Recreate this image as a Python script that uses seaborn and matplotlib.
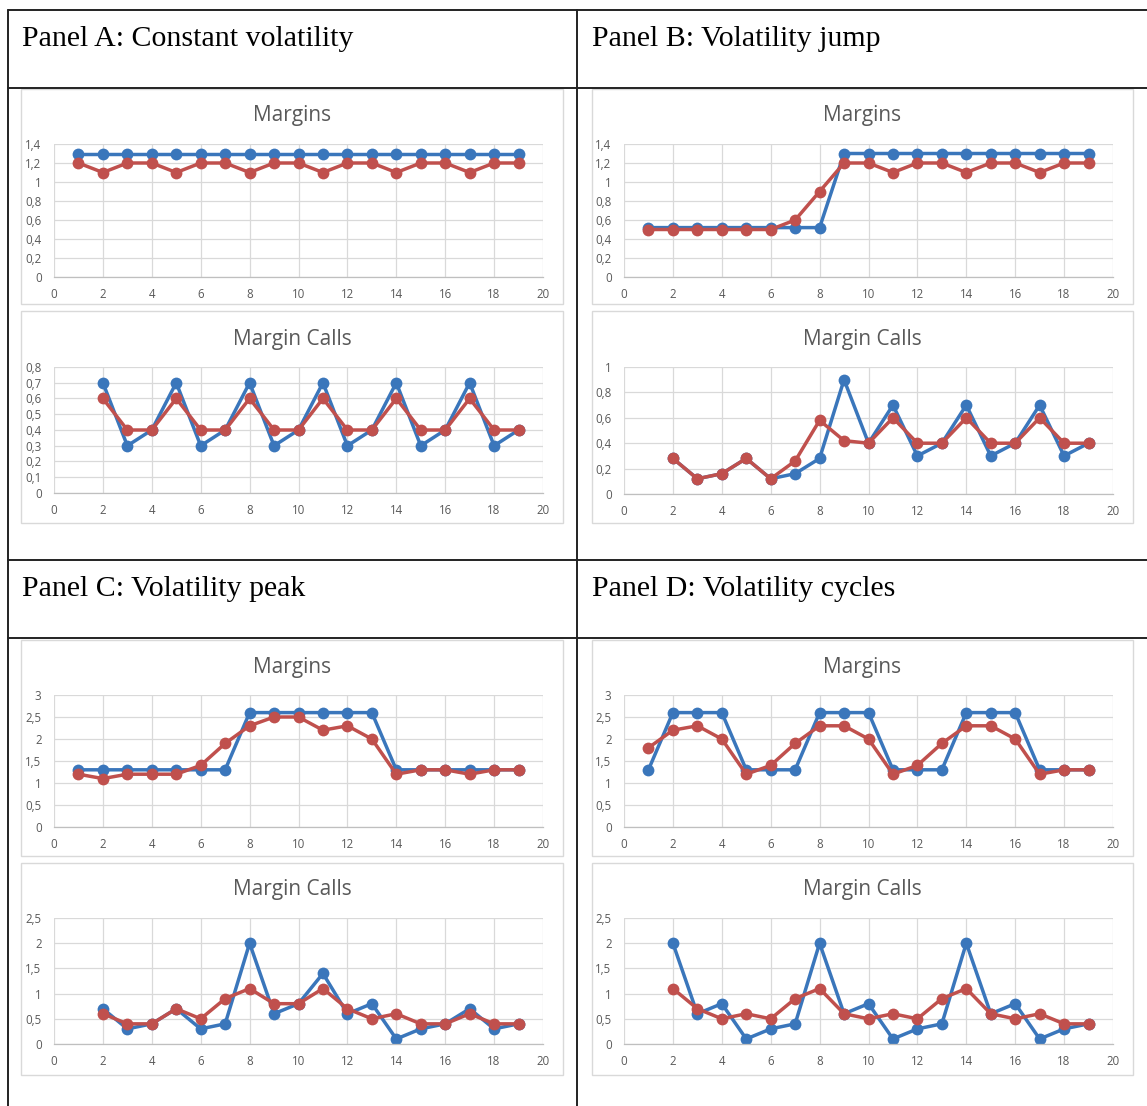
import numpy as np
import pandas as pd
import matplotlib
matplotlib.use("Agg")
import matplotlib.pyplot as plt
import seaborn as sns
from matplotlib.lines import Line2D
from matplotlib.patches import Rectangle
from matplotlib.ticker import FuncFormatter, MultipleLocator

# periods
x_margins = list(range(1, 20))
x_calls = list(range(2, 20))

# Panel A: constant volatility
a_margin_blue = [1.3] * 19
a_margin_red = [1.2, 1.1, 1.2, 1.2, 1.1, 1.2, 1.2, 1.1, 1.2, 1.2, 1.1, 1.2, 1.2, 1.1, 1.2, 1.2, 1.1, 1.2, 1.2]
a_calls_blue = [0.7, 0.3, 0.4, 0.7, 0.3, 0.4, 0.7, 0.3, 0.4, 0.7, 0.3, 0.4, 0.7, 0.3, 0.4, 0.7, 0.3, 0.4]
a_calls_red = [0.6, 0.4, 0.4, 0.6, 0.4, 0.4, 0.6, 0.4, 0.4, 0.6, 0.4, 0.4, 0.6, 0.4, 0.4, 0.6, 0.4, 0.4]

# Panel B: volatility jump
b_margin_blue = [0.52] * 8 + [1.3] * 11
b_margin_red = [0.5, 0.5, 0.5, 0.5, 0.5, 0.5, 0.6, 0.9, 1.2, 1.2, 1.1, 1.2, 1.2, 1.1, 1.2, 1.2, 1.1, 1.2, 1.2]
b_calls_blue = [0.28, 0.12, 0.16, 0.28, 0.12, 0.16, 0.28, 0.9, 0.4, 0.7, 0.3, 0.4, 0.7, 0.3, 0.4, 0.7, 0.3, 0.4]
b_calls_red = [0.28, 0.12, 0.16, 0.28, 0.12, 0.26, 0.58, 0.42, 0.4, 0.6, 0.4, 0.4, 0.6, 0.4, 0.4, 0.6, 0.4, 0.4]

# Panel C: volatility peak
c_margin_blue = [1.3] * 7 + [2.6] * 6 + [1.3] * 6
c_margin_red = [1.2, 1.1, 1.2, 1.2, 1.2, 1.4, 1.9, 2.3, 2.5, 2.5, 2.2, 2.3, 2.0, 1.2, 1.3, 1.3, 1.2, 1.3, 1.3]
c_calls_blue = [0.7, 0.3, 0.4, 0.7, 0.3, 0.4, 2.0, 0.6, 0.8, 1.4, 0.6, 0.8, 0.1, 0.3, 0.4, 0.7, 0.3, 0.4]
c_calls_red = [0.6, 0.4, 0.4, 0.7, 0.5, 0.9, 1.1, 0.8, 0.8, 1.1, 0.7, 0.5, 0.6, 0.4, 0.4, 0.6, 0.4, 0.4]

# Panel D: volatility cycles
d_margin_blue = [1.3, 2.6, 2.6, 2.6, 1.3, 1.3, 1.3, 2.6, 2.6, 2.6, 1.3, 1.3, 1.3, 2.6, 2.6, 2.6, 1.3, 1.3, 1.3]
d_margin_red = [1.8, 2.2, 2.3, 2.0, 1.2, 1.4, 1.9, 2.3, 2.3, 2.0, 1.2, 1.4, 1.9, 2.3, 2.3, 2.0, 1.2, 1.3, 1.3]
d_calls_blue = [2.0, 0.6, 0.8, 0.1, 0.3, 0.4, 2.0, 0.6, 0.8, 0.1, 0.3, 0.4, 2.0, 0.6, 0.8, 0.1, 0.3, 0.4]
d_calls_red = [1.1, 0.7, 0.5, 0.6, 0.5, 0.9, 1.1, 0.6, 0.5, 0.6, 0.5, 0.9, 1.1, 0.6, 0.5, 0.6, 0.4, 0.4]

panel_titles = ["Panel A: Constant volatility", "Panel B: Volatility jump",
                "Panel C: Volatility peak", "Panel D: Volatility cycles"]
chart_titles = ["Margins", "Margin Calls"]

BLUE = "#3A76BB"
RED = "#C0504D"
GREY_TXT = "#595959"
GRID = "#d9d9d9"

W, H = 1147, 1106

sns.set_style("white")
plt.rcParams["font.family"] = ["Open Sans", "DejaVu Sans"]

fig = plt.figure(figsize=(W / 100, H / 100), dpi=100)


def fx(px):
    return px / W


def fy(py):
    return 1 - py / H


def comma_fmt(v, pos):
    return f"{round(v, 2):g}".replace(".", ",")


def draw_chart(x0, ytop, ybot, xs, blue, red, ymax, ystep, title, title_y):
    ax = fig.add_axes([fx(x0), fy(ybot), fx(489), (ybot - ytop) / H])
    df = pd.DataFrame({
        "t": list(xs) + list(xs),
        "value": list(blue) + list(red),
        "series": ["blue"] * len(xs) + ["red"] * len(xs),
    })
    sns.lineplot(data=df, x="t", y="value", hue="series", hue_order=["blue", "red"],
                 palette={"blue": BLUE, "red": RED}, marker="o", markersize=8.5,
                 markeredgewidth=0, linewidth=2.5, legend=False, ax=ax, sort=False)
    ax.set_xlim(0, 20)
    ax.set_ylim(0, ymax)
    ax.xaxis.set_major_locator(MultipleLocator(2))
    ax.yaxis.set_major_locator(MultipleLocator(ystep))
    ax.yaxis.set_major_formatter(FuncFormatter(comma_fmt))
    ax.grid(True, color=GRID, linewidth=0.9)
    ax.set_axisbelow(True)
    for s in ["top", "right", "left"]:
        ax.spines[s].set_visible(False)
    ax.spines["bottom"].set_color("#bfbfbf")
    ax.spines["bottom"].set_linewidth(0.9)
    ax.tick_params(axis="both", length=0, labelsize=8.3, labelcolor=GREY_TXT)
    ax.tick_params(axis="x", pad=8)
    ax.tick_params(axis="y", pad=9)
    ax.set_xlabel("")
    ax.set_ylabel("")
    ax.set_facecolor("none")
    fig.text(fx(x0 + 238), fy(title_y), title, ha="center", va="center",
             fontsize=15, color=GREY_TXT)


# table grid lines
def hline(y, x0=8, x1=W):
    fig.add_artist(Line2D([fx(x0), fx(x1)], [fy(y), fy(y)], color="#222222", linewidth=1.4))


def vline(x, y0=10, y1=H):
    fig.add_artist(Line2D([fx(x), fx(x)], [fy(y0), fy(y1)], color="#222222", linewidth=1.4))


for y in [10, 88, 560, 638]:
    hline(y)
vline(8)
vline(577)

# chart area boxes
boxes = [(21, 89, 563, 304), (21, 311, 563, 523), (592, 89, 1133, 304), (592, 311, 1133, 523),
         (21, 640, 563, 856), (21, 863, 563, 1075), (592, 640, 1133, 856), (592, 863, 1133, 1075)]
for bx0, by0, bx1, by1 in boxes:
    fig.add_artist(Rectangle((fx(bx0), fy(by1)), fx(bx1 - bx0), (by1 - by0) / H,
                             fill=False, edgecolor="#d9d9d9", linewidth=1.0))

# panel headers
header_pos = [(22, 39), (592, 39), (22, 589), (592, 589)]
for (hx, hy), t in zip(header_pos, panel_titles):
    fig.text(fx(hx), fy(hy), t, ha="left", va="center", fontsize=21.5,
             family=["Liberation Serif", "DejaVu Serif"], color="black")

# charts
draw_chart(54, 144, 277, x_margins, a_margin_blue, a_margin_red, 1.4, 0.2, chart_titles[0], 116)
draw_chart(54, 367, 493, x_calls, a_calls_blue, a_calls_red, 0.8, 0.1, chart_titles[1], 340)
draw_chart(624, 144, 277, x_margins, b_margin_blue, b_margin_red, 1.4, 0.2, chart_titles[0], 116)
draw_chart(624, 367, 494, x_calls, b_calls_blue, b_calls_red, 1.0, 0.2, chart_titles[1], 340)
draw_chart(54, 695, 827, x_margins, c_margin_blue, c_margin_red, 3.0, 0.5, chart_titles[0], 667)
draw_chart(54, 918, 1044, x_calls, c_calls_blue, c_calls_red, 2.5, 0.5, chart_titles[1], 890)
draw_chart(624, 695, 827, x_margins, d_margin_blue, d_margin_red, 3.0, 0.5, chart_titles[0], 667)
draw_chart(624, 918, 1044, x_calls, d_calls_blue, d_calls_red, 2.5, 0.5, chart_titles[1], 890)

fig.savefig("out.png", dpi=100)
